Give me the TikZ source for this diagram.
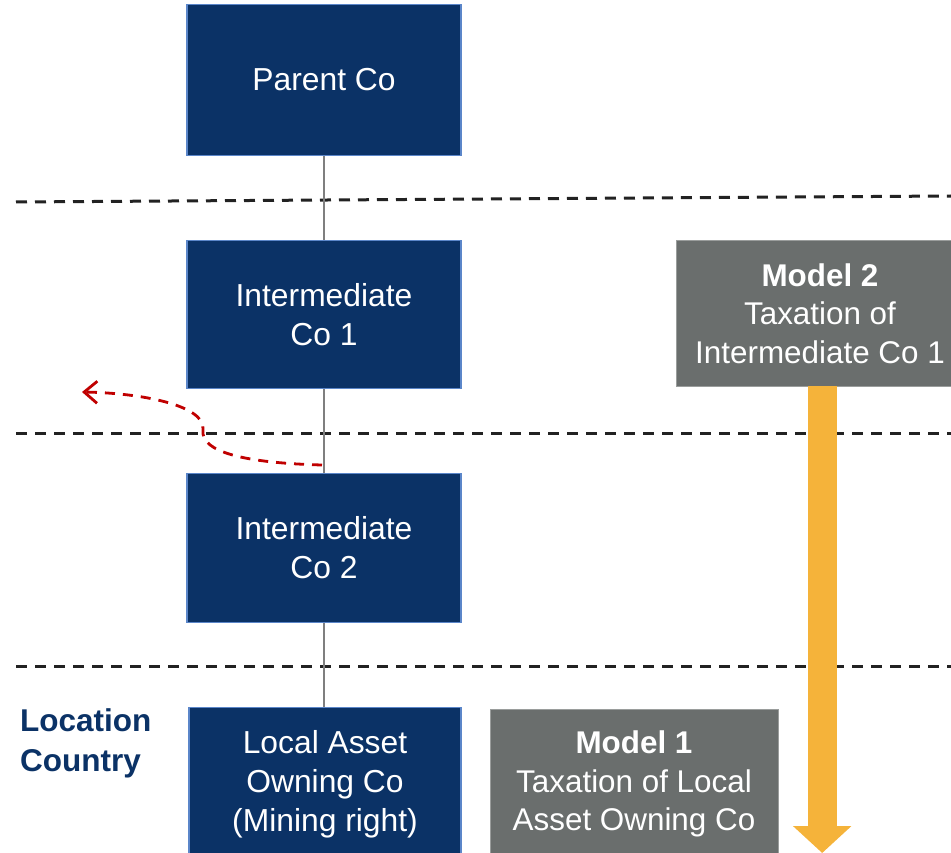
\documentclass[tikz,border=0pt]{standalone}
\usepackage{fontspec}
\setmainfont{Liberation Sans}
\usetikzlibrary{arrows.meta}
\definecolor{navy}{HTML}{0B3266}
\definecolor{navyedge}{HTML}{5B86C9}
\definecolor{slate}{HTML}{6A6E6D}
\definecolor{slateedge}{HTML}{9A9D9C}
\definecolor{amber}{HTML}{F5B33A}
\definecolor{redd}{HTML}{C00000}
\definecolor{linkgray}{HTML}{7F7F7F}
\definecolor{dashk}{HTML}{222222}
\newcommand{\shiftln}{\hspace*{12pt}}
\begin{document}
\begin{tikzpicture}[x=1pt,y=-1pt,
  cobox/.style={draw=navyedge, line width=1.2pt, fill=navy, text=white, align=center,
     minimum width=274pt, inner sep=0pt, font=\fontsize{31.8}{39}\selectfont},
  modelbox/.style={draw=slateedge, line width=1pt, fill=slate, text=white, align=center,
     inner sep=0pt, font=\fontsize{31.4}{38.5}\selectfont},
  sep/.style={draw=dashk, line width=3pt, dash pattern=on 11pt off 8pt},
  link/.style={draw=linkgray, line width=2.8pt}]
\useasboundingbox (0,0) rectangle (951,853);
% separators
\draw[sep] (16,202) -- (951,196);
\draw[sep] (16,433.5) -- (951,433.5);
\draw[sep] (16,666) -- (951,666);
% company boxes
\node[cobox, minimum height=151pt] (parent) at (324,80) {Parent Co};
\node[cobox, minimum height=148pt] (ic1) at (324,314.5) {Intermediate\\Co 1};
\node[cobox, minimum height=149pt] (ic2) at (324,548) {Intermediate\\Co 2};
\node[cobox, minimum width=272pt, minimum height=154pt] (local) at (325,784.5) {Local Asset\\Owning Co\\(Mining right)};
% links
\draw[link] (parent.south) -- (ic1.north);
\draw[link] (ic1.south) -- (ic2.north);
\draw[link] (ic2.south) -- (local.north -| ic2.south);
% model boxes
\node[modelbox, minimum width=276pt, minimum height=145pt] (m2) at (814,313.5) {\shiftln\textbf{Model 2}\\\shiftln Taxation of\\\shiftln Intermediate Co 1};
\node[modelbox, minimum width=288pt, minimum height=150pt] (m1) at (634,784) {\textbf{Model 1}\\Taxation of Local\\Asset Owning Co};
% orange arrow
\coordinate (m2foot) at (822.2,386);
\coordinate (arrtip) at (822.2,853);
\draw[amber, line width=29pt, -{Triangle[length=27pt,width=57pt]}] (m2foot) -- (arrtip);
% location label
\node[anchor=north west, align=left, text=navy, font=\fontsize{31.5}{40}\selectfont\bfseries, inner sep=0pt] (loc) at (20,708) {Location\\Country};
% red dashed curve
\coordinate (rstart) at (322,465);
\coordinate (rmid) at (203,430);
\coordinate (rend) at (82,392);
\draw[redd, line width=2.8pt, dash pattern=on 10pt off 8pt, -{Straight Barb[length=13pt,width=22pt,line width=2.8pt]}]
  (rstart) .. controls (245,463) and (200,452) .. (rmid) .. controls (206,405) and (140,393) .. (rend);
\end{tikzpicture}
\end{document}
